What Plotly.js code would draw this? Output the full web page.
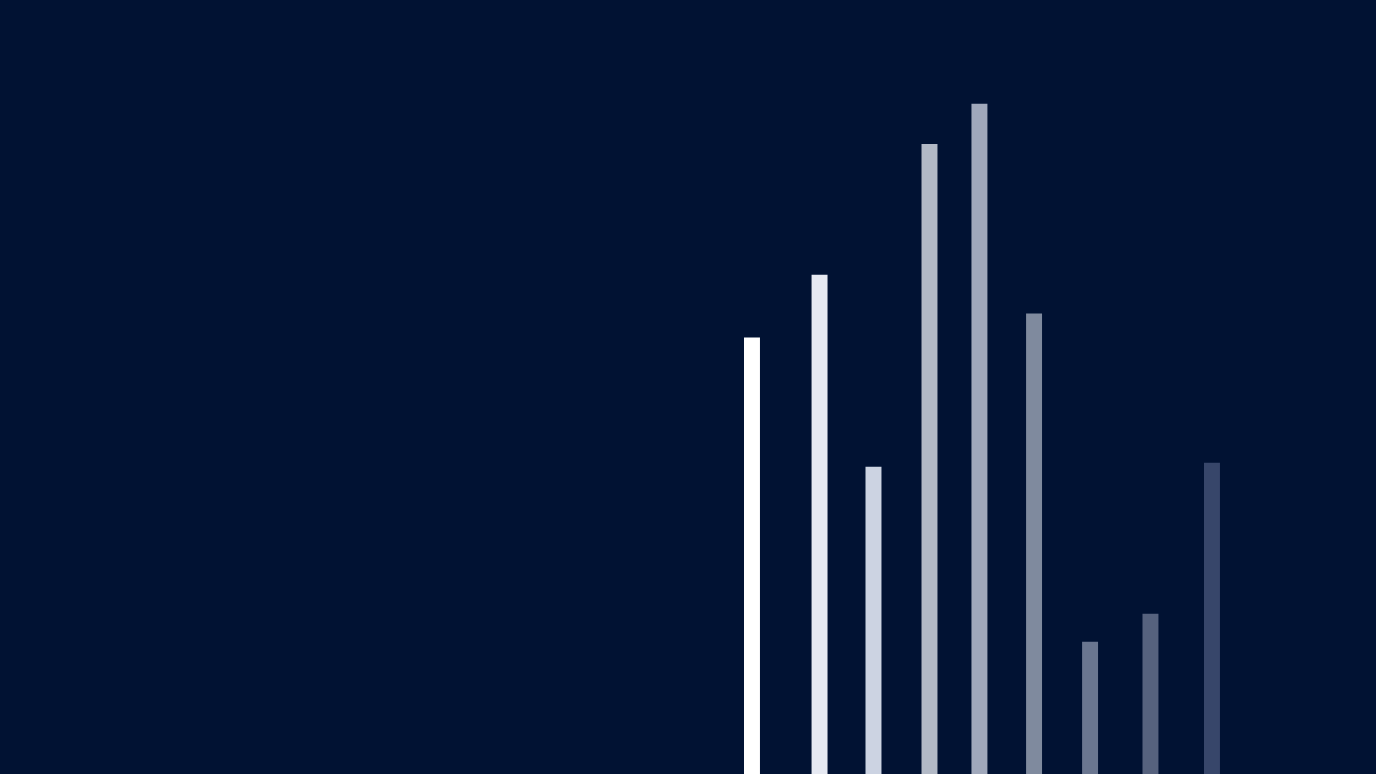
<!DOCTYPE html>
<html>
<head>
<meta charset="utf-8">
<script src="https://cdn.plot.ly/plotly-3.0.1.min.js"></script>
<style>
  html, body { margin: 0; padding: 0; background: #011233; overflow: hidden; }
  #chart { width: 1376px; height: 774px; }
</style>
</head>
<body>
<div id="chart"></div>
<script>
// positions and heights (0-100 scale on both axes)
const positions = [54.65, 59.56, 63.48, 67.55, 71.18, 75.15, 79.22, 83.61, 88.08];
const heights = [56.4, 64.5, 39.7, 81.4, 86.6, 59.5, 17.1, 20.7, 40.2];
const barColors = ['#ffffff', '#e6e9f2', '#ccd3e2', '#b2b9c6', '#a0a8bb',
                   '#7f8a9e', '#6a7690', '#56627e', '#37466a'];

Plotly.newPlot('chart', [{
    x: positions,
    y: heights,
    type: 'bar',
    width: 1.16,
    marker: { color: barColors, line: { width: 0 } },
    hoverinfo: 'none'
}], {
    width: 1376,
    height: 774,
    margin: { t: 0, b: 0, l: 0, r: 0 },
    paper_bgcolor: '#011233',
    plot_bgcolor: '#011233',
    showlegend: false,
    xaxis: { range: [0, 100], visible: false, fixedrange: true },
    yaxis: { range: [0, 100], visible: false, fixedrange: true }
}, { displayModeBar: false, staticPlot: true });
</script>
</body>
</html>
